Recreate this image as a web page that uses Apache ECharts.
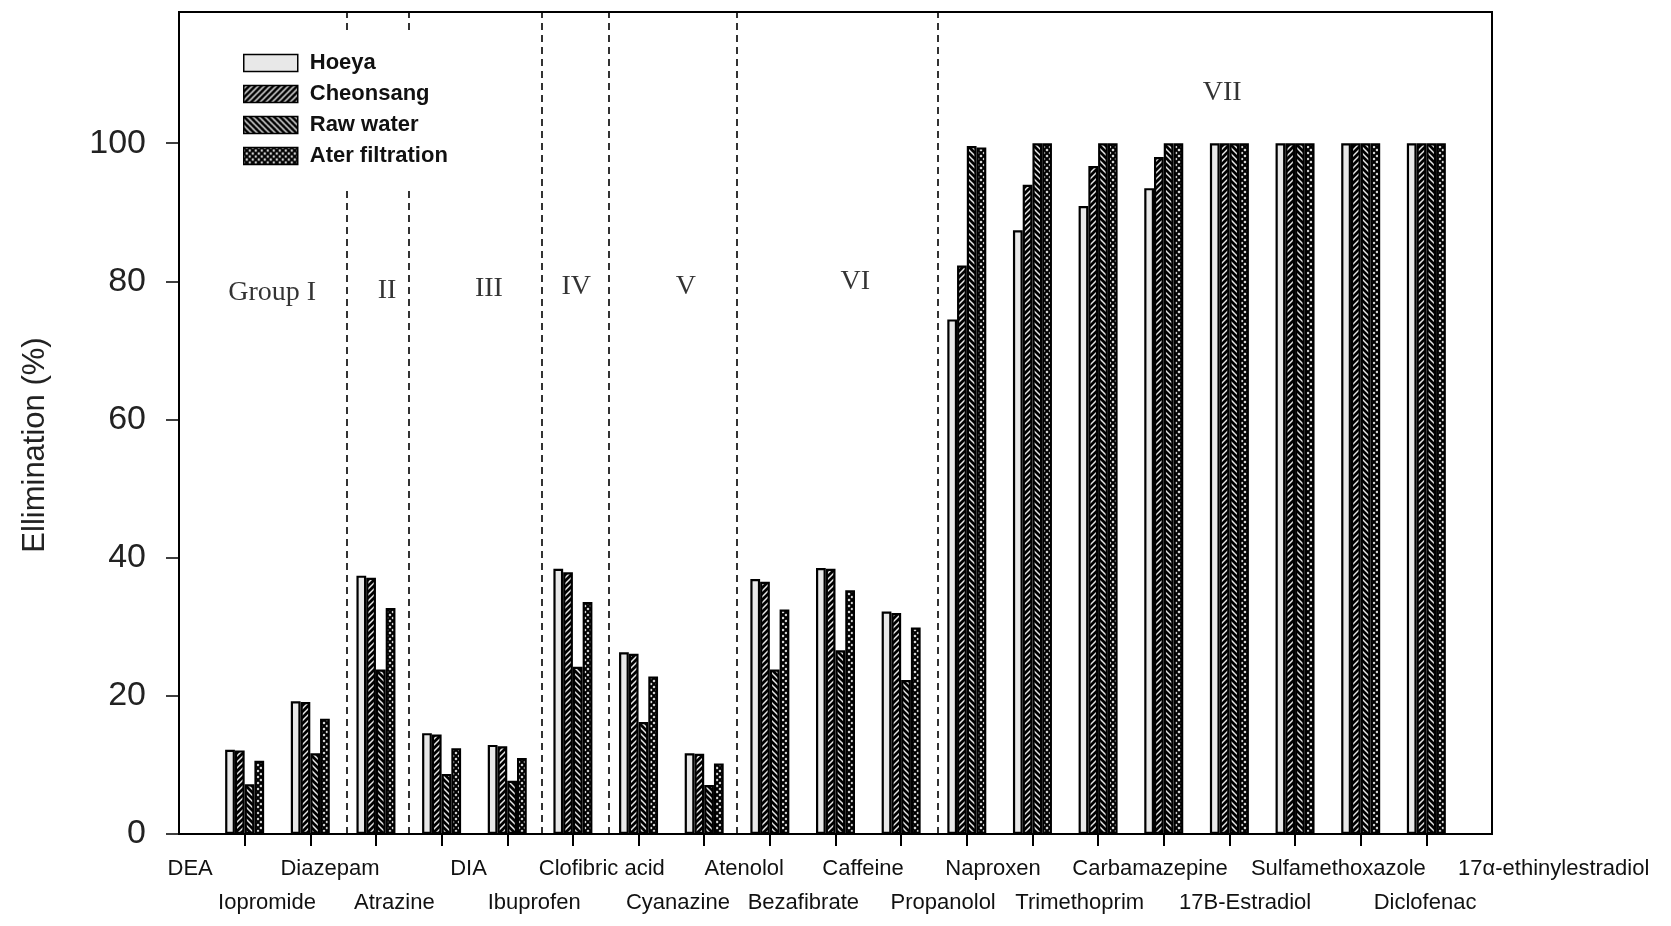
<!DOCTYPE html>
<html>
<head>
<meta charset="utf-8">
<title>Elimination by compound</title>
<script src="https://cdn.jsdelivr.net/npm/echarts@6/dist/echarts.min.js"></script>
<style>
  html, body { margin: 0; padding: 0; background: #fff; }
  #main { width: 1671px; height: 926px; }
</style>
</head>
<body>
<div id="main"></div>
<script>
// Compounds, in plotting order (one bar group each)
const compounds = [
  'DEA', 'Iopromide', 'Diazepam', 'Atrazine', 'DIA', 'Ibuprofen',
  'Clofibric acid', 'Cyanazine', 'Atenolol', 'Bezafibrate', 'Caffeine',
  'Propanolol', 'Naproxen', 'Trimethoprim', 'Carbamazepine',
  '17B-Estradiol', 'Sulfamethoxazole', 'Diclofenac', '17\u03b1-ethinylestradiol'
];

// Elimination (%) per compound
const hoeya           = [12.2, 19.2, 37.4, 14.6, 12.9, 38.4, 26.3, 11.7, 36.9, 38.5, 32.2, 74.5, 87.4, 90.9, 93.5, 100, 100, 100, 100];
const cheonsang       = [12.1, 19.1, 37.1, 14.4, 12.7, 37.9, 26.1, 11.6, 36.5, 38.4, 32.0, 82.3, 94.0, 96.7, 98.0, 100, 100, 100, 100];
const rawWater        = [7.2, 11.7, 23.8, 8.7, 7.7, 24.2, 16.2, 7.1, 23.8, 26.6, 22.3, 99.6, 100, 100, 100, 100, 100, 100, 100];
const afterFiltration = [10.6, 16.7, 32.7, 12.4, 11.0, 33.6, 22.8, 10.2, 32.5, 35.3, 29.9, 99.4, 100, 100, 100, 100, 100, 100, 100];

const seriesNames = ['Hoeya', 'Cheonsang', 'Raw water', 'Ater filtration'];
const groupNames  = ['Group I', 'II', 'III', 'IV', 'V', 'VI', 'VII'];
const yTicks      = [0, 20, 40, 60, 80, 100];

// Layout (in x-axis units; bar group k sits at k + 1)
const labelSlots      = [0.17, 1.34, 2.30, 3.28, 4.41, 5.41, 6.44, 7.60, 8.61, 9.51, 10.42, 11.64, 12.40, 13.72, 14.79, 16.24, 17.66, 18.98, 20.94];
const groupLabelSlots = [[1.42, 78.3], [3.17, 78.6], [4.72, 79.0], [6.05, 79.2], [7.72, 79.2], [10.3, 80.0], [15.89, 107.3]];
const dividerSlots    = [2.56, 3.5, 5.52, 6.54, 8.5, 11.56];

const GRID_L = 179, GRID_R = 179, GRID_T = 12, GRID_B = 92;
const X_MAX = 20, Y_MAX = 119;

function pattern(kind) {
  const s = 6;
  const c = document.createElement('canvas');
  c.width = s; c.height = s;
  const g = c.getContext('2d');
  g.fillStyle = '#e8e8e8';
  g.fillRect(0, 0, s, s);
  g.strokeStyle = '#000';
  g.lineWidth = 2.8;
  const fwd = () => {
    g.beginPath();
    g.moveTo(-s, s); g.lineTo(s, -s);
    g.moveTo(0, s); g.lineTo(s, 0);
    g.moveTo(0, 2 * s); g.lineTo(2 * s, 0);
    g.stroke();
  };
  const back = () => {
    g.beginPath();
    g.moveTo(0, 0); g.lineTo(s, s);
    g.moveTo(-s, 0); g.lineTo(s, 2 * s);
    g.moveTo(0, -s); g.lineTo(2 * s, s);
    g.stroke();
  };
  if (kind === 'fwd') fwd();
  if (kind === 'back') back();
  if (kind === 'cross') { g.lineWidth = 2; fwd(); back(); }
  return { image: c, repeat: 'repeat' };
}

const fills = ['#e8e8e8', pattern('fwd'), pattern('back'), pattern('cross')];
const valueSets = [hoeya, cheonsang, rawWater, afterFiltration];

const chart = echarts.init(document.getElementById('main'));
const W = chart.getWidth();
const unitPx = (W - GRID_L - GRID_R) / X_MAX;
const labelMax = (W - GRID_L) / unitPx;

function nameAt(v) {
  let best = 0;
  labelSlots.forEach((p, i) => { if (Math.abs(p - v) < Math.abs(labelSlots[best] - v)) best = i; });
  return compounds[best];
}

const labelFont = { fontFamily: 'Liberation Sans, Arial, sans-serif', fontSize: 22, color: '#111' };

const barSeries = seriesNames.map((name, s) => ({
  name,
  type: 'bar',
  xAxisIndex: 0,
  yAxisIndex: 0,
  barWidth: 9.75,
  barGap: '0%',
  data: valueSets[s].map((v, i) => [i + 1, v]),
  itemStyle: { color: fills[s], borderColor: '#000', borderWidth: 2.2 },
  emphasis: { disabled: true },
  silent: true
}));

// Compound names sit in two staggered rows under the axis
function labelAxis(row, margin) {
  return {
    type: 'value', gridIndex: 1, min: 0, max: labelMax,
    position: 'bottom', offset: 0,
    axisLine: { show: false }, axisTick: { show: false }, splitLine: { show: false },
    axisLabel: Object.assign({
      customValues: labelSlots.filter((p, i) => i % 2 === row),
      formatter: v => nameAt(v),
      margin, showMinLabel: true, showMaxLabel: true
    }, labelFont)
  };
}

const option = {
  animation: false,
  backgroundColor: '#fff',
  grid: [
    { left: GRID_L, right: GRID_R, top: GRID_T, bottom: GRID_B, show: true, borderColor: '#000', borderWidth: 2, backgroundColor: 'transparent' },
    { left: GRID_L, right: 0, top: GRID_T, bottom: GRID_B, show: false }
  ],
  legend: {
    data: seriesNames,
    orient: 'vertical',
    left: 223,
    top: 30,
    z: 20,
    padding: [22, 14, 20, 20],
    itemWidth: 54,
    itemHeight: 17,
    itemGap: 9,
    icon: 'rect',
    backgroundColor: '#fff',
    selectedMode: false,
    itemStyle: { borderWidth: 1.5, borderColor: '#000' },
    textStyle: { fontFamily: 'Liberation Sans, Arial, sans-serif', fontSize: 22, fontWeight: 'bold', color: '#111', padding: [0, 0, 0, 7] }
  },
  xAxis: [
    {
      type: 'value', gridIndex: 0, min: 0, max: X_MAX, position: 'bottom',
      axisLine: { show: true, onZero: false, lineStyle: { color: '#000', width: 2 } },
      axisTick: { show: true, customValues: compounds.map((c, i) => i + 1), length: 12, lineStyle: { color: '#000', width: 2 } },
      axisLabel: { show: false },
      splitLine: { show: false }
    },
    labelAxis(0, 24),
    labelAxis(1, 58)
  ],
  yAxis: [
    {
      type: 'value', gridIndex: 0, min: 0, max: Y_MAX,
      name: 'Ellimination (%)',
      nameLocation: 'middle',
      nameGap: 128,
      nameTextStyle: { fontFamily: 'Liberation Sans, Arial, sans-serif', fontSize: 31, color: '#222', padding: [0, 44, 0, 0] },
      axisLine: { show: true, lineStyle: { color: '#000', width: 2 } },
      axisTick: { show: true, customValues: yTicks, length: 13, lineStyle: { color: '#000', width: 1.5 } },
      axisLabel: { customValues: yTicks, margin: 33, fontFamily: 'Liberation Sans, Arial, sans-serif', fontSize: 34, color: '#222' },
      splitLine: { show: false }
    },
    { type: 'value', gridIndex: 1, min: 0, max: Y_MAX, show: false }
  ],
  series: barSeries.concat([
    {
      name: 'groups',
      type: 'scatter',
      xAxisIndex: 0,
      yAxisIndex: 0,
      symbolSize: 0,
      silent: true,
      z: 5,
      data: groupNames.map((g, i) => ({ name: g, value: groupLabelSlots[i] })),
      label: {
        show: true,
        position: 'inside',
        formatter: p => p.name,
        fontFamily: 'Liberation Serif, Times New Roman, serif',
        fontSize: 28,
        color: '#000'
      },
      markLine: {
        silent: true,
        z: 1,
        symbol: ['none', 'none'],
        label: { show: false },
        lineStyle: { type: [7, 5], color: '#000', width: 1.6 },
        data: dividerSlots.map(x => ({ xAxis: x }))
      }
    }
  ])
};

chart.setOption(option);
</script>
</body>
</html>
